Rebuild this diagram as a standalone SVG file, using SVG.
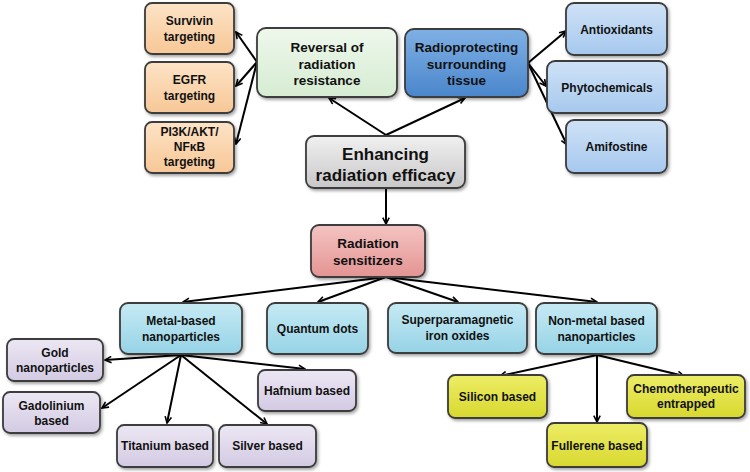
<svg xmlns="http://www.w3.org/2000/svg" width="750" height="472" viewBox="0 0 750 472">
<defs>
<linearGradient id="gOr" x1="0" y1="0" x2="0" y2="1"><stop offset="0" stop-color="#fde3c6"/><stop offset="1" stop-color="#f7c796"/></linearGradient>
<linearGradient id="gGr" x1="0" y1="0" x2="0" y2="1"><stop offset="0" stop-color="#eef8ec"/><stop offset="1" stop-color="#d6ecd2"/></linearGradient>
<linearGradient id="gBd" x1="0" y1="0" x2="0" y2="1"><stop offset="0" stop-color="#7fb0e4"/><stop offset="1" stop-color="#4a86cc"/></linearGradient>
<linearGradient id="gBl" x1="0" y1="0" x2="0" y2="1"><stop offset="0" stop-color="#cfe2f6"/><stop offset="1" stop-color="#a6c8ee"/></linearGradient>
<linearGradient id="gGy" x1="0" y1="0" x2="0" y2="1"><stop offset="0" stop-color="#f0f0f0"/><stop offset="1" stop-color="#c8c8c8"/></linearGradient>
<linearGradient id="gPk" x1="0" y1="0" x2="0" y2="1"><stop offset="0" stop-color="#f4c4c2"/><stop offset="1" stop-color="#e39492"/></linearGradient>
<linearGradient id="gCy" x1="0" y1="0" x2="0" y2="1"><stop offset="0" stop-color="#c6eaf4"/><stop offset="1" stop-color="#96d3e6"/></linearGradient>
<linearGradient id="gLv" x1="0" y1="0" x2="0" y2="1"><stop offset="0" stop-color="#ece7f3"/><stop offset="1" stop-color="#d3cae3"/></linearGradient>
<linearGradient id="gYl" x1="0" y1="0" x2="0" y2="1"><stop offset="0" stop-color="#eded66"/><stop offset="1" stop-color="#d8d830"/></linearGradient>
<filter id="sh" x="-10%" y="-10%" width="125%" height="130%"><feDropShadow dx="1.5" dy="2" stdDeviation="1.5" flood-color="#000" flood-opacity="0.35"/></filter>
<marker id="ah" viewBox="0 0 10 10" refX="9" refY="5" markerWidth="8" markerHeight="8" orient="auto-start-reverse" markerUnits="userSpaceOnUse"><path d="M1,1 L9,5 L1,9" fill="none" stroke="#000" stroke-width="2"/></marker>
</defs>
<style>
rect{stroke:#3c3c3c;stroke-width:1.8;filter:url(#sh)}
text{font-family:"Liberation Sans",Arial,sans-serif;font-weight:bold;fill:#111;text-anchor:middle;dominant-baseline:central}
.s{font-size:12px}
.m{font-size:13.5px}
.l{font-size:17px}
#conn line{stroke:#000;stroke-width:2;fill:none;marker-end:url(#ah)}
</style>
<rect width="750" height="472" fill="#fff" style="stroke:none;filter:none"/>
<g id="conn">
<line x1="386" y1="135" x2="329" y2="98"/>
<line x1="386" y1="135" x2="465" y2="98"/>
<line x1="257" y1="62" x2="236" y2="32"/>
<line x1="257" y1="62" x2="236" y2="86"/>
<line x1="257" y1="62" x2="236" y2="144"/>
<line x1="528" y1="63" x2="566" y2="31"/>
<line x1="528" y1="63" x2="546" y2="86"/>
<line x1="528" y1="63" x2="567" y2="145"/>
<line x1="386" y1="188" x2="386" y2="224"/>
<line x1="386" y1="277" x2="183" y2="302"/>
<line x1="386" y1="277" x2="318" y2="302"/>
<line x1="386" y1="277" x2="458" y2="302"/>
<line x1="386" y1="277" x2="597" y2="302"/>
<line x1="181" y1="355" x2="105" y2="360"/>
<line x1="181" y1="355" x2="305" y2="369"/>
<line x1="181" y1="355" x2="102" y2="408"/>
<line x1="181" y1="355" x2="167" y2="423"/>
<line x1="181" y1="355" x2="267" y2="424"/>
<line x1="597" y1="355" x2="500" y2="376"/>
<line x1="597" y1="355" x2="684" y2="376"/>
<line x1="597" y1="355" x2="597" y2="422"/>
</g>
<g id="survivin"><rect x="145" y="3" width="89" height="51" rx="7" fill="url(#gOr)"/><text class="s" x="189.5" y="21">Survivin</text><text class="s" x="189.5" y="37">targeting</text></g>
<g id="egfr"><rect x="145" y="62" width="89" height="51" rx="7" fill="url(#gOr)"/><text class="s" x="189.5" y="80">EGFR</text><text class="s" x="189.5" y="96">targeting</text></g>
<g id="pi3k"><rect x="145" y="122" width="89" height="51" rx="7" fill="url(#gOr)"/><text class="s" x="189.5" y="132">PI3K/AKT/</text><text class="s" x="189.5" y="147">NFκB</text><text class="s" x="189.5" y="162">targeting</text></g>
<g id="reversal"><rect x="257" y="28" width="140" height="69" rx="9" fill="url(#gGr)"/><text class="m" x="327" y="47">Reversal of</text><text class="m" x="327" y="64">radiation</text><text class="m" x="327" y="80">resistance</text></g>
<g id="radioprotecting"><rect x="405" y="29" width="123" height="68" rx="9" fill="url(#gBd)"/><text class="m" x="466.5" y="47">Radioprotecting</text><text class="m" x="466.5" y="64">surrounding</text><text class="m" x="466.5" y="80">tissue</text></g>
<g id="antioxidants"><rect x="566" y="3" width="101" height="52" rx="8" fill="url(#gBl)"/><text class="s" x="616.5" y="30">Antioxidants</text></g>
<g id="phytochemicals"><rect x="547" y="61" width="120" height="52" rx="8" fill="url(#gBl)"/><text class="s" x="607" y="88">Phytochemicals</text></g>
<g id="amifostine"><rect x="566" y="120" width="101" height="53" rx="8" fill="url(#gBl)"/><text class="s" x="616.5" y="147">Amifostine</text></g>
<g id="enhancing"><rect x="306" y="136" width="159" height="52" rx="8" fill="url(#gGy)"/><text class="l" x="385.5" y="154">Enhancing</text><text class="l" x="385.5" y="175">radiation efficacy</text></g>
<g id="sensitizers"><rect x="311" y="225" width="114" height="52" rx="8" fill="url(#gPk)"/><text class="m" x="368" y="243">Radiation</text><text class="m" x="368" y="260">sensitizers</text></g>
<g id="metal"><rect x="120" y="303" width="122" height="51" rx="8" fill="url(#gCy)"/><text class="s" x="181" y="321">Metal-based</text><text class="s" x="181" y="337">nanoparticles</text></g>
<g id="quantum"><rect x="267" y="303" width="101" height="51" rx="8" fill="url(#gCy)"/><text class="s" x="317.5" y="329">Quantum dots</text></g>
<g id="spio"><rect x="388" y="303" width="139" height="50" rx="8" fill="url(#gCy)"/><text class="s" x="457.5" y="320">Superparamagnetic</text><text class="s" x="457.5" y="336">iron oxides</text></g>
<g id="nonmetal"><rect x="536" y="303" width="121" height="51" rx="8" fill="url(#gCy)"/><text class="s" x="596.5" y="321">Non-metal based</text><text class="s" x="596.5" y="337">nanoparticles</text></g>
<g id="gold"><rect x="7" y="339" width="96" height="42" rx="7" fill="url(#gLv)"/><text class="s" x="55" y="353">Gold</text><text class="s" x="55" y="368">nanoparticles</text></g>
<g id="gadolinium"><rect x="3" y="392" width="97" height="41" rx="7" fill="url(#gLv)"/><text class="s" x="51.5" y="406">Gadolinium</text><text class="s" x="51.5" y="421">based</text></g>
<g id="titanium"><rect x="117" y="425" width="96" height="42" rx="7" fill="url(#gLv)"/><text class="s" x="165" y="446">Titanium based</text></g>
<g id="silver"><rect x="219" y="425" width="97" height="42" rx="7" fill="url(#gLv)"/><text class="s" x="267.5" y="446">Silver based</text></g>
<g id="hafnium"><rect x="258" y="370" width="98" height="41" rx="7" fill="url(#gLv)"/><text class="s" x="307" y="391">Hafnium based</text></g>
<g id="silicon"><rect x="448" y="375" width="99" height="43" rx="7" fill="url(#gYl)"/><text class="s" x="497.5" y="397">Silicon based</text></g>
<g id="chemo"><rect x="627" y="375" width="118" height="43" rx="7" fill="url(#gYl)"/><text class="s" x="686" y="389">Chemotherapeutic</text><text class="s" x="686" y="404">entrapped</text></g>
<g id="fullerene"><rect x="547" y="423" width="100" height="44" rx="7" fill="url(#gYl)"/><text class="s" x="597" y="446">Fullerene based</text></g>
</svg>
